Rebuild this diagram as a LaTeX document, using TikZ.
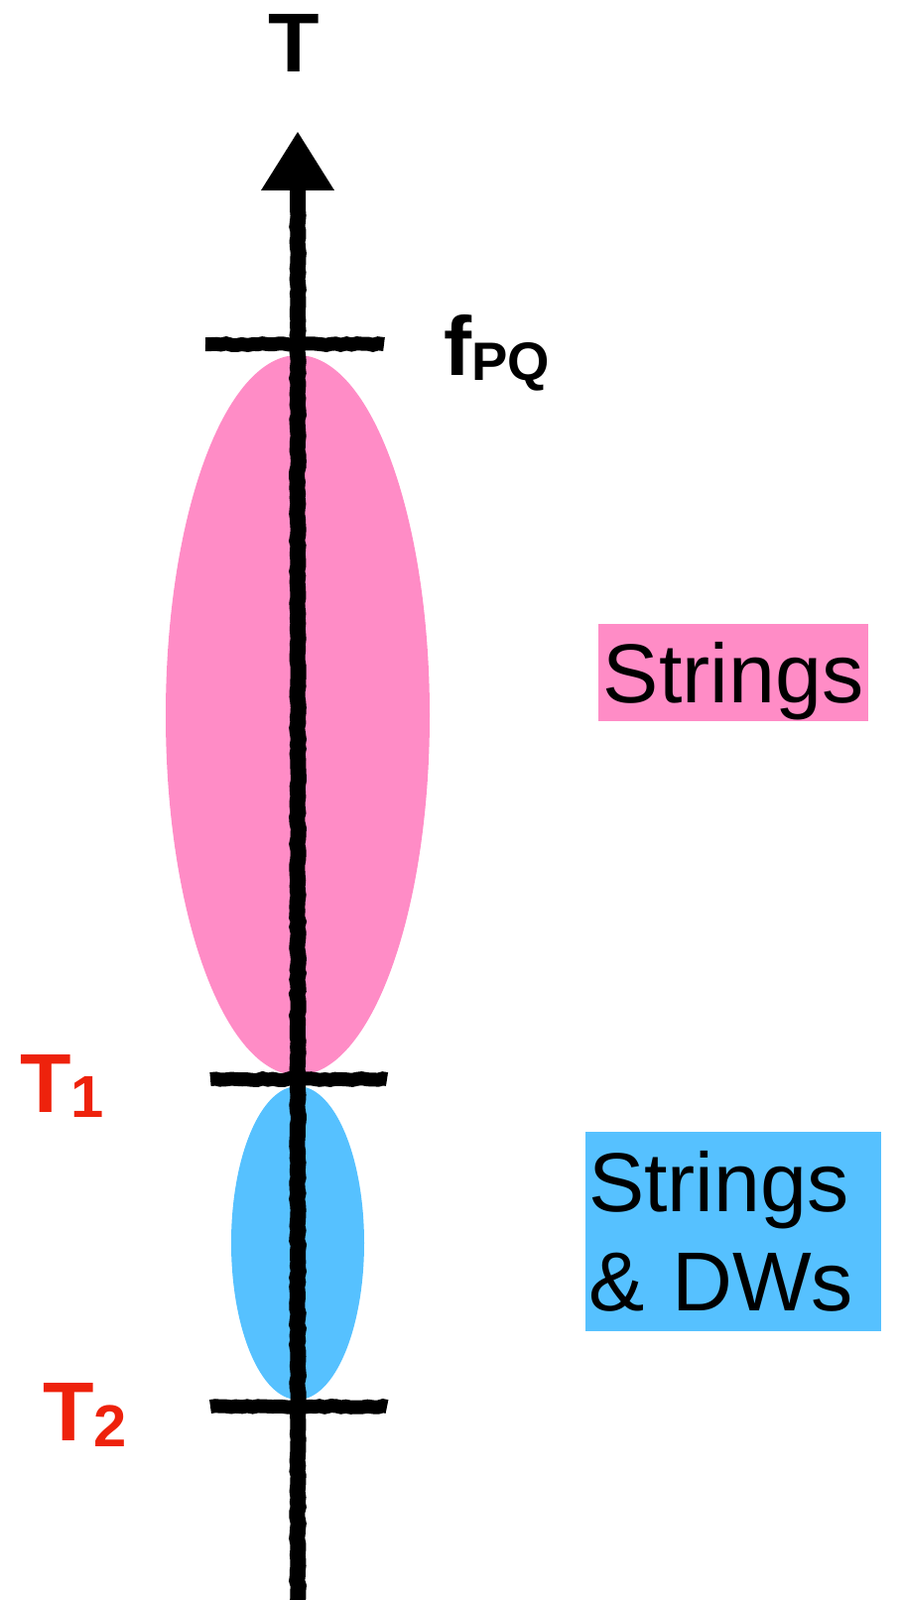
\documentclass[tikz,border=0pt]{standalone}
\usepackage{fontspec}
\setmainfont{Liberation Sans}
\usepackage{xcolor}
\usetikzlibrary{arrows.meta,decorations.pathmorphing}
\definecolor{stringpink}{RGB}{255,140,198}
\definecolor{dwblue}{RGB}{86,193,255}
\definecolor{tempred}{RGB}{238,34,12}

\begin{document}
\begin{tikzpicture}[x=0.02cm, y=-0.02cm,
    chalk/.style={line width=0.32cm, decorate,
      decoration={random steps, segment length=3pt, amplitude=0.5pt, post length=1.5cm}},
    tickmark/.style={line width=0.28cm, decorate,
      decoration={random steps, segment length=3pt, amplitude=0.5pt}},
    lbl/.style={font=\fontsize{48}{50}\selectfont\bfseries, inner sep=0pt, anchor=base west},
    boxlbl/.style={font=\fontsize{48}{57.3}\selectfont, inner sep=0pt}]
  \useasboundingbox (0,0) rectangle (908,1613);
  \fill[stringpink] (300,721) ellipse [x radius=133, y radius=363];
  \fill[dwblue] (300,1253) ellipse [x radius=67, y radius=158];
  \coordinate (fl) at (207,347);
  \coordinate (fr) at (387,347);
  \coordinate (al) at (212,1088);
  \coordinate (ar) at (390,1088);
  \coordinate (bl) at (212,1418);
  \coordinate (br) at (390,1418);
  \draw[tickmark] (fl) -- (fr);
  \draw[tickmark] (al) -- (ar);
  \draw[tickmark] (bl) -- (br);
  \coordinate (axbot) at (300,1625);
  \coordinate (axtop) at (300,133);
  \draw[chalk, -{Triangle[length=1.18cm, width=1.48cm, line width=0pt]}] (axbot) -- (axtop);
  \node[lbl] (tlab) at (270,72) {T};
  \node[lbl] (fpq) at (447,378) {f\raisebox{-0.1cm}{\fontsize{31}{33}\selectfont PQ}};
  \node[lbl, tempred] (tone) at (20,1121) {T\raisebox{-0.1cm}{\fontsize{34}{36}\selectfont 1}};
  \node[lbl, tempred] (ttwo) at (43,1452) {T\raisebox{-0.12cm}{\fontsize{34}{36}\selectfont 2}};
  \node[boxlbl, fill=stringpink, minimum width=5.44cm, minimum height=1.96cm,
    text height=34.4pt, text depth=0pt] (strbox) at (739,678) {Strings};
  \node[boxlbl, fill=dwblue, text width=5.84cm, align=left, inner xsep=0.06cm,
    minimum height=4.02cm] (dwbox) at (739,1241.5) {Strings\\\& DWs};
\end{tikzpicture}
\end{document}
